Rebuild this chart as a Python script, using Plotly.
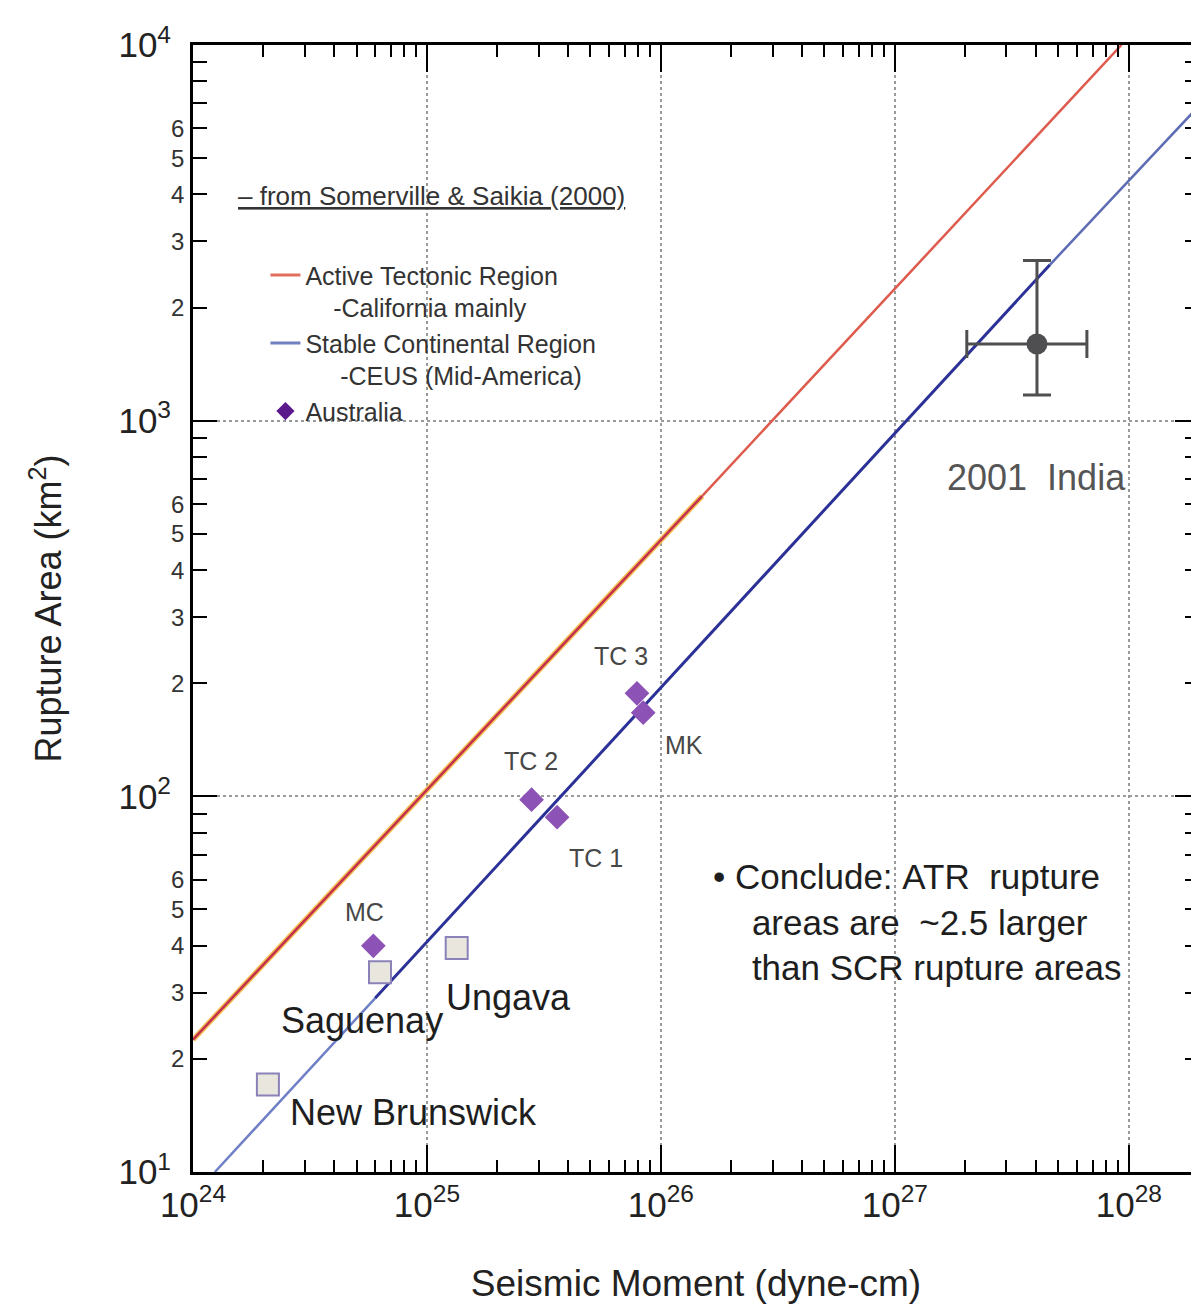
import numpy as np
import plotly.graph_objects as go

FONT = "Liberation Sans, Arial, sans-serif"

# ---------------- data ----------------
# Regression lines, seismic moment (dyne-cm) vs rupture area (km^2)
atr_moment_low = [1.0e24, 1.5e26]
atr_area_low = [22.5, 630]
atr_moment_high = [1.5e26, 9.3e27]
atr_area_high = [630, 1.0e4]

scr_moment_a = [1.24e24, 6.0e24]
scr_area_a = [10, 29]
scr_moment_b = [6.0e24, 4.6e27]
scr_area_b = [29, 2600]
scr_moment_c = [4.6e27, 2.0e28]
scr_area_c = [2600, 6900]

# Australian earthquakes
aus_names = ["MC", "TC 2", "TC 1", "TC 3", "MK"]
aus_moment = [5.9e24, 2.8e25, 3.6e25, 7.9e25, 8.4e25]
aus_area = [40, 98, 88, 188, 167]
aus_label_dx = [-9, -1, 39, -16, 41]
aus_label_dy = [34, 39, -41, 37, -32]

# Eastern North America earthquakes
ena_names = ["Saguenay", "Ungava", "New Brunswick"]
ena_moment = [6.3e24, 1.34e25, 2.09e24]
ena_area = [34, 39.5, 17.1]
ena_label_dx = [-18, 52, 146]
ena_label_dy = [-48, -50, -28]

# 2001 India (Bhuj)
india_moment = [4.05e27]
india_moment_low = [2.03e27]
india_moment_high = [6.62e27]
india_area = [1600]
india_area_low = [1170]
india_area_high = [2670]

# axes
x_decades = [24, 25, 26, 27, 28]
y_decades = [1, 2, 3, 4]
minor_digits = [2, 3, 4, 5, 6, 7, 8, 9]
y_minor_labels = [2, 3, 4, 5, 6]

# ---------------- figure ----------------
fig = go.Figure()

# ATR line (lower part with yellowish glow, upper part lighter red)
fig.add_trace(go.Scatter(x=atr_moment_low, y=atr_area_low, mode="lines",
                         line=dict(color="#f3c45a", width=5.5), showlegend=False, hoverinfo="skip"))
fig.add_trace(go.Scatter(x=atr_moment_low, y=atr_area_low, mode="lines",
                         line=dict(color="#c4304c", width=2.5), showlegend=False))
fig.add_trace(go.Scatter(x=atr_moment_high, y=atr_area_high, mode="lines",
                         line=dict(color="#dd5a4c", width=2.5), showlegend=False))

# SCR line segments
fig.add_trace(go.Scatter(x=scr_moment_a, y=scr_area_a, mode="lines",
                         line=dict(color="#6f7fc6", width=2.5), showlegend=False))
fig.add_trace(go.Scatter(x=scr_moment_b, y=scr_area_b, mode="lines",
                         line=dict(color="#2b3196", width=3), showlegend=False))
fig.add_trace(go.Scatter(x=scr_moment_c, y=scr_area_c, mode="lines",
                         line=dict(color="#5d6cb2", width=2.5), showlegend=False))

# ENA squares
fig.add_trace(go.Scatter(x=ena_moment, y=ena_area, mode="markers",
                         marker=dict(symbol="square", size=22, color="#e9e6de",
                                     line=dict(color="#8a82b8", width=2)),
                         showlegend=False))

# Australia diamonds
fig.add_trace(go.Scatter(x=aus_moment, y=aus_area, mode="markers",
                         marker=dict(symbol="diamond", size=19, color="#8c52b6",
                                     line=dict(width=0)),
                         showlegend=False))

# India with error bars
fig.add_trace(go.Scatter(
    x=india_moment, y=india_area, mode="markers",
    marker=dict(symbol="circle", size=21, color="#4f4f52"),
    error_x=dict(type="data", symmetric=False,
                 array=[h - v for h, v in zip(india_moment_high, india_moment)],
                 arrayminus=[v - l for l, v in zip(india_moment_low, india_moment)],
                 color="#4f4f4f", thickness=3, width=14),
    error_y=dict(type="data", symmetric=False,
                 array=[h - v for h, v in zip(india_area_high, india_area)],
                 arrayminus=[v - l for l, v in zip(india_area_low, india_area)],
                 color="#4f4f4f", thickness=3, width=14),
    showlegend=False))

# legend-only entries
nb = "\u00a0"
fig.add_trace(go.Scatter(x=[None], y=[None], mode="lines",
                         line=dict(color="#e0705e", width=3),
                         name="Active Tectonic Region<br>" + nb * 4 + "-California mainly"))
fig.add_trace(go.Scatter(x=[None], y=[None], mode="lines",
                         line=dict(color="#7080c0", width=3),
                         name="Stable Continental Region<br>" + nb * 5 + "-CEUS (Mid-America)"))
fig.add_trace(go.Scatter(x=[None], y=[None], mode="markers",
                         marker=dict(symbol="diamond", size=14, color="#5a1a8c"),
                         name="Australia"))

annotations = []
for n, m, a, dx, dy in zip(aus_names, aus_moment, aus_area, aus_label_dx, aus_label_dy):
    annotations.append(dict(x=np.log10(m), y=np.log10(a), xref="x", yref="y", text=n,
                            showarrow=False, xshift=dx, yshift=dy,
                            font=dict(family=FONT, size=25, color="#474747")))
for n, m, a, dx, dy in zip(ena_names, ena_moment, ena_area, ena_label_dx, ena_label_dy):
    annotations.append(dict(x=np.log10(m), y=np.log10(a), xref="x", yref="y", text=n,
                            showarrow=False, xshift=dx, yshift=dy,
                            font=dict(family=FONT, size=36, color="#1e1e1e")))
annotations.append(dict(x=np.log10(india_moment[0]), y=np.log10(india_area[0]), xref="x", yref="y",
                        text="2001" + nb * 2 + "India", showarrow=False, yshift=-134,
                        font=dict(family=FONT, size=36, color="#555555")))

# minor y labels 2..6 per decade
for d in y_decades[:-1]:
    for v in y_minor_labels:
        annotations.append(dict(x=0, y=d + np.log10(v), xref="paper", yref="y", text=str(v),
                                showarrow=False, xanchor="right", xshift=-7,
                                font=dict(family=FONT, size=24, color="#333333")))

annotations.append(dict(x=0.043, y=0.866, xref="paper", yref="paper", xanchor="left", yanchor="middle",
                        text='<span style="text-decoration:underline">\u2013 from Somerville & Saikia (2000)</span>',
                        showarrow=False, font=dict(family=FONT, size=26, color="#333333")))

annotations.append(dict(x=0.515, y=0.281, xref="paper", yref="paper", xanchor="left", yanchor="top",
                        align="left", showarrow=False,
                        text="\u2022 Conclude:" + nb + "ATR" + nb + " rupture<br>" + nb * 4 +
                             "areas are" + nb * 2 + "~2.5 larger<br>" + nb * 4 + "than SCR rupture areas",
                        font=dict(family=FONT, size=35, color="#1e1e1e")))

x_minor = [10.0 ** d * k for d in x_decades for k in minor_digits]
y_minor = [10.0 ** d * k for d in y_decades[:-1] for k in minor_digits]

fig.update_layout(
    width=1191, height=1302,
    margin=dict(l=185, r=0, t=37, b=138),
    plot_bgcolor="white", paper_bgcolor="white",
    font=dict(family=FONT, color="#222222"),
    annotations=annotations,
    legend=dict(x=0.072, y=0.816, xanchor="left", yanchor="top", valign="top",
                bgcolor="rgba(0,0,0,0)", borderwidth=0, tracegroupgap=0,
                font=dict(family=FONT, size=25, color="#333333")),
    xaxis=dict(
        type="log", range=[24, 28.3], automargin=False,
        tickmode="array", tickvals=[10.0 ** d for d in x_decades],
        ticktext=["10<sup>%d</sup>" % d for d in x_decades],
        ticks="inside", ticklen=27, tickwidth=2, tickcolor="black",
        minor=dict(tickmode="array", tickvals=x_minor, ticks="inside", ticklen=12,
                   tickwidth=2, tickcolor="black", showgrid=False),
        showline=True, linecolor="black", linewidth=3, mirror="ticks",
        showgrid=True, gridcolor="#9a9a9a", griddash="dot", gridwidth=1.5,
        tickfont=dict(family=FONT, size=35, color="#222222"),
        title=dict(text="Seismic Moment (dyne-cm)", standoff=48,
                   font=dict(family=FONT, size=37, color="#222222")),
        zeroline=False,
    ),
    yaxis=dict(
        type="log", range=[1, 4], automargin=False,
        tickmode="array", tickvals=[10.0 ** d for d in y_decades],
        ticktext=["10<sup>%d</sup>" % d for d in y_decades],
        ticks="inside", ticklen=24, tickwidth=2, tickcolor="black",
        ticklabelstandoff=12,
        minor=dict(tickmode="array", tickvals=y_minor, ticks="inside", ticklen=14,
                   tickwidth=2, tickcolor="black", showgrid=False),
        showline=True, linecolor="black", linewidth=3, mirror="ticks",
        showgrid=True, gridcolor="#9a9a9a", griddash="dot", gridwidth=1.5,
        tickfont=dict(family=FONT, size=35, color="#222222"),
        title=dict(text="Rupture Area (km<sup>2</sup>)", standoff=46,
                   font=dict(family=FONT, size=36, color="#222222")),
        zeroline=False,
    ),
)

fig.write_html("out.html")
